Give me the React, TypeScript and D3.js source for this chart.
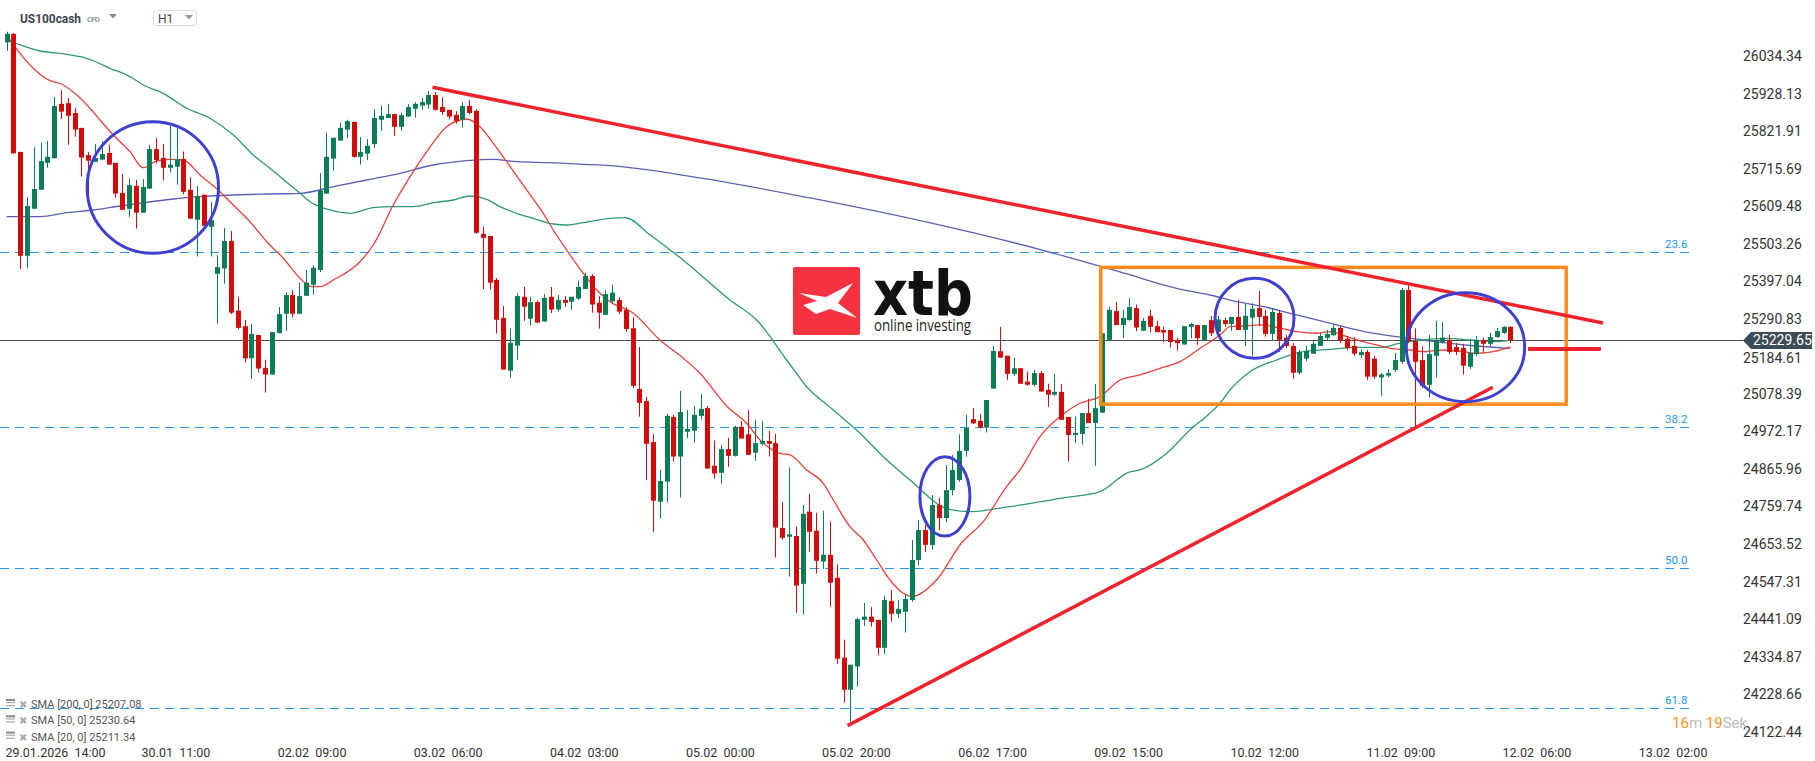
import React from 'react';
import * as d3 from 'd3';

// ---------- DATA ----------
const OPEN = [26073,26097,25763,25469,25602,25656,25732,25745,25899,25901,25873,25831,25754,25735,25741,25760,25732,25647,25602,25667,25591,25659,25771,25746,25718,25721,25743,25656,25571,25642,25551,25418,25433,25511,25314,25270,25179,25245,25152,25133,25250,25305,25358,25305,25356,25387,25429,25645,25744,25795,25826,25848,25749,25758,25785,25854,25859,25870,25834,25863,25885,25894,25897,25924,25890,25882,25868,25853,25893,25879,25531,25525,25401,25293,25144,25215,25353,25291,25338,25283,25353,25317,25344,25339,25348,25375,25412,25336,25302,25340,25344,25316,25264,25092,25058,24942,24773,24830,25013,24901,24971,24974,25016,25038,24875,24855,24922,24903,24985,24964,24912,24937,24945,24939,24699,24674,24676,24541,24745,24691,24604,24623,24558,24332,24241,24307,24439,24448,24439,24360,24492,24456,24462,24495,24608,24693,24651,24764,24727,24806,24835,24917,25007,25002,24983,25093,25199,25186,25135,25151,25113,25104,25137,25090,25076,25084,25013,24962,24965,25024,24996,25025,25231,25313,25273,25287,25321,25257,25299,25270,25259,25259,25231,25218,25268,25273,25231,25287,25254,25287,25276,25296,25259,25294,25321,25299,25248,25307,25237,25214,25138,25178,25192,25214,25237,25244,25265,25234,25214,25188,25197,25178,25125,25130,25146,25169,25372,25228,25174,25104,25186,25225,25231,25211,25208,25155,25191,25231,25220,25239,25251,25268];
const HIGH = [26103,26099,25763,25635,25776,25789,25794,25918,25937,25916,25887,25831,25763,25785,25793,25783,25732,25701,25688,25684,25686,25783,25802,25785,25836,25831,25764,25691,25666,25642,25621,25471,25548,25539,25353,25287,25276,25245,25175,25253,25324,25365,25372,25393,25429,25442,25703,25817,25803,25845,25854,25848,25805,25799,25884,25894,25899,25870,25874,25898,25904,25915,25935,25932,25918,25882,25878,25904,25910,25884,25551,25525,25406,25327,25263,25364,25381,25353,25342,25361,25381,25358,25355,25353,25399,25421,25417,25355,25372,25387,25352,25323,25295,25211,25070,24964,24863,25022,25019,25087,25033,25044,25078,25044,24946,24934,24954,24988,25002,25033,25005,25002,24973,24965,24772,24870,24703,24764,24796,24742,24748,24717,24596,24383,24312,24446,24487,24475,24439,24507,24524,24495,24512,24665,24721,24707,24792,24784,24877,24905,24964,25019,25038,25021,25061,25214,25268,25186,25181,25151,25141,25146,25143,25107,25135,25106,25013,25014,25024,25064,25106,25250,25325,25339,25316,25350,25331,25293,25316,25285,25268,25259,25237,25270,25279,25273,25273,25299,25299,25294,25296,25344,25333,25335,25370,25316,25321,25316,25245,25222,25203,25214,25228,25251,25259,25273,25270,25242,25239,25205,25203,25186,25137,25148,25194,25378,25384,25264,25212,25245,25285,25282,25245,25222,25220,25234,25242,25237,25251,25265,25270,25270];
const LOW = [26049,25757,25432,25435,25602,25656,25718,25745,25856,25783,25806,25693,25633,25735,25741,25727,25633,25599,25579,25546,25591,25659,25730,25682,25705,25670,25643,25574,25467,25554,25467,25277,25390,25304,25261,25167,25120,25139,25082,25133,25250,25257,25294,25305,25356,25359,25423,25645,25710,25795,25803,25747,25727,25740,25774,25822,25859,25809,25823,25863,25860,25882,25885,25880,25868,25855,25843,25832,25869,25531,25375,25373,25249,25147,25124,25175,25285,25271,25278,25283,25307,25311,25325,25316,25344,25375,25308,25263,25302,25335,25304,25254,25095,25014,24834,24688,24725,24771,24887,24785,24953,24940,25006,24867,24838,24824,24872,24901,24952,24906,24889,24932,24901,24615,24666,24561,24459,24454,24632,24570,24583,24476,24315,24205,24151,24250,24422,24420,24339,24342,24434,24445,24403,24490,24594,24631,24637,24693,24716,24792,24830,24901,24993,24980,24969,25093,25181,25118,25129,25107,25102,25099,25085,25042,25073,25005,24887,24939,24935,24996,24875,25025,25228,25273,25236,25285,25256,25257,25252,25253,25225,25210,25201,25218,25236,25217,25231,25242,25254,25268,25257,25259,25214,25186,25270,25240,25229,25197,25208,25121,25133,25171,25192,25214,25231,25244,25222,25203,25186,25180,25118,25121,25073,25126,25140,25163,25222,24984,25095,25068,25125,25220,25191,25188,25133,25149,25186,25194,25214,25237,25248,25222];
const CLOSE = [26097,25759,25469,25610,25658,25737,25749,25893,25877,25865,25826,25747,25738,25746,25757,25727,25645,25599,25669,25591,25664,25771,25740,25718,25727,25743,25650,25574,25638,25554,25570,25437,25511,25308,25265,25179,25248,25150,25133,25253,25304,25358,25305,25355,25393,25435,25654,25749,25803,25831,25850,25749,25763,25780,25859,25865,25870,25834,25867,25890,25899,25904,25924,25882,25876,25863,25850,25893,25873,25534,25520,25393,25288,25147,25223,25355,25325,25338,25280,25350,25317,25344,25336,25353,25381,25412,25331,25308,25361,25365,25311,25262,25101,25053,24937,24776,24832,25016,24901,25027,24979,25019,25036,24867,24853,24922,24903,24985,24952,24906,24939,24945,24937,24700,24671,24681,24536,24739,24688,24606,24623,24544,24329,24241,24312,24441,24448,24433,24360,24495,24456,24470,24498,24608,24693,24651,24764,24727,24806,24863,24917,24982,24995,24983,25061,25200,25181,25135,25151,25107,25104,25137,25085,25076,25084,25005,24962,24968,25024,24996,25038,25250,25316,25273,25293,25324,25266,25285,25268,25253,25252,25225,25222,25270,25276,25236,25273,25250,25289,25276,25296,25259,25299,25319,25296,25248,25310,25231,25214,25138,25197,25200,25220,25242,25248,25265,25229,25208,25192,25197,25127,25127,25133,25137,25174,25372,25228,25169,25101,25191,25228,25237,25197,25197,25158,25194,25231,25220,25239,25256,25268,25229.65];

const Y_TICKS = [26034.34,25928.13,25821.91,25715.69,25609.48,25503.26,25397.04,25290.83,25184.61,25078.39,24972.17,24865.96,24759.74,24653.52,24547.31,24441.09,24334.87,24228.66,24122.44];
const X_LABELS = ['29.01.2026  14:00','30.01  11:00','02.02  09:00','03.02  06:00','04.02  03:00','05.02  00:00','05.02  20:00','06.02  17:00','09.02  15:00','10.02  12:00','11.02  09:00','12.02  06:00','13.02  02:00'];
const X_LABEL_INDEX = [0,20,40,60,80,100,120,140,160,180,200,220,240];

const SMA20_I = [0,1.98,3.94,5.91,8.35,10.32,12.27,13.74,15.69,18.15,20.1,22.07,24.03,25.98,28.44,31.37,33.33,35.78,38.24,40.68,43.13,44.85,46.07,48.02,51.95,53.9,56.84,59.78,61.75,64.69,67.63,69.58,71.54,73.5,76.44,78.88,80.35,82.32,84.76,87.21,88.69,92.11,96.03,99.46,101.91,105.83,108.77,110.73,113.67,115.14,117.59,120.03,121.5,123.95,125.91,127.88,129.83,131.79,133,136.83,140.22,143.63,147.03,148.94,151.87,154.81,157.75,160.69,163.63,166.57,169.51,172.45,175.39,178.33,179.8,181.75,184.2,186.66,189.6,192.54,194.49,196.44,198.41,201.35,203.3,206.25,208.2,211.14,214.08,216.05,218.49,221];
const SMA20_V = [26094,26042,25999.6,25969.3,25952.3,25924,25886.4,25853.3,25810.8,25763.6,25718.3,25737.3,25742.1,25740.1,25697.7,25650.4,25612.8,25565.5,25508.9,25462,25405.4,25381.6,25381.6,25400.6,25452.3,25499.6,25612.8,25707,25763.6,25834.3,25856.1,25834.3,25787.3,25735.3,25655.2,25589.3,25542,25485.4,25419.5,25362.9,25339.2,25306.3,25230.8,25179,25136.6,25044.1,24995.1,24947.9,24910.2,24905.4,24863,24825.3,24778.1,24702.5,24664.9,24608.3,24551.7,24514.1,24505,24555.1,24653.6,24719,24817.7,24863,24957.2,25013.8,25051.7,25070.4,25117.6,25131.8,25150.7,25169.4,25207.3,25245,25268.4,25270.4,25273.3,25266.7,25254.3,25249.8,25254.3,25244.1,25230.8,25216.7,25207.3,25202.5,25197.7,25202.5,25197.7,25193.2,25197.7,25211.34];
const SMA50_I = [0,1.98,4.92,8.85,11.79,15.21,18.15,20.1,23.04,26.48,29.9,33.33,36.27,38.72,41.66,43.13,44.6,47.54,50.48,53.9,56.84,59.78,62.72,65.66,68.11,70.57,72.52,74.97,77.41,80.35,82.32,84.76,88.69,90.89,94.6,99.41,106.32,110.24,114.65,117.59,121.5,125.42,128.85,132.77,138.5,141.88,147.03,155.55,160.63,164.89,166.57,170.49,173.91,176.85,178.33,179.8,182.74,186.66,190.57,194.49,198.41,202.32,204.29,207.23,211.14,215.06,218.49,221];
const SMA50_V = [26079.6,26065.5,26048.5,26039.2,26027.8,25999.6,25975.8,25952.3,25928.8,25886.4,25858.1,25810.8,25754.2,25716.6,25669.4,25645.9,25622.1,25598.6,25589.3,25605.1,25608,25608,25619.3,25626.9,25638.2,25628.9,25608,25589.3,25575.1,25559,25556.2,25562.7,25575.1,25577.1,25527.9,25457.2,25344,25287.4,25174.2,25098.6,25032.7,24966.8,24900.6,24834.7,24751.8,24745.3,24758.3,24784.6,24800.7,24856.5,24863,24910.2,24976.2,25023.4,25051.7,25089.3,25141.1,25174.2,25197.7,25204.5,25210.1,25210.1,25219.5,25228.8,25235.6,25230.8,25226,25230.64];
const SMA200_I = [0,4.92,8.85,12.76,16.68,20.6,24.51,28.44,33.33,38.24,43.13,48.02,52.93,57.83,62.72,67.63,71.54,74.97,79.87,84.76,88.69,101.91,118.08,135.12,152.17,163.63,172.93,176.85,180.78,184.69,188.61,192.54,196.44,200.37,204.29,208.2,212.12,216.05,221];
const SMA200_V = [25579.7,25579.7,25591,25598.6,25609.9,25620.4,25629.7,25636.3,25641.1,25643.9,25645.9,25664.6,25683.5,25702.5,25725.9,25738.1,25742.1,25735.3,25732.5,25727.9,25724,25689.2,25632.6,25564.7,25485.4,25423.2,25372.3,25358.1,25339.2,25325,25306.3,25287.4,25268.4,25251.5,25240.2,25230.8,25221.5,25213.8,25207.08];

const FIB_LEVELS = [25478.9, 24983.7, 24584.8, 24188.7];
const FIB_LABELS = ['23.6', '38.2', '50.0', '61.8'];
const LAST_PRICE = 25229.65;
const LEGEND = ['SMA [200, 0] 25207.08', 'SMA [50, 0] 25230.64', 'SMA [20, 0] 25211.34'];

const TREND_DOWN = [[62.6, 25945.8], [234.6, 25278.9]];
const TREND_UP = [[123.6, 24139.5], [218.4, 25097.0]];
const PRICE_MARK = [[223.6, 25205.4], [234.3, 25205.4]];
const BOX = [160.8, 229.2, 25436.2, 25049.2];
const ELLIPSES = [[21.5, 25662.3, 65.7, 65.8], [137.9, 24788.3, 25, 39.7], [183.4, 25292.2, 39.5, 40], [214.4, 25210.4, 59.2, 54.5]];

// ---------- STYLE ----------
const GREEN = '#0a7d56';
const RED = '#d20b0b';
const FONT = 'Roboto, "Noto Sans", sans-serif';

export default function App() {
  const W = 1815, H = 761;
  const xs = d3.scaleLinear().domain([0, 221]).range([6.5, 6.5 + 221 * 6.805]);
  const ys = d3.scaleLinear().domain([24122.44, 26034.34]).range([731.7, 56]);

  const candles = OPEN.map((o, i) => ({ i, o, h: HIGH[i], l: LOW[i], c: CLOSE[i] }));

  const mk = (I: number[], V: number[]) =>
    d3.line<number>().x((_, k) => xs(I[k])).y((v) => ys(v)).curve(d3.curveMonotoneX)(V) || '';

  const lastY = ys(LAST_PRICE);
  const tickYs = Y_TICKS.map((t) => {
    let y = ys(t);
    if (Math.abs(y - lastY) < 17) y = y > lastY ? lastY + 17.5 : lastY - 17.5;
    return y;
  });

  return (
    <svg width={W} height={H} style={{ position: 'absolute', left: 0, top: 0, background: '#fff' }} fontFamily={FONT}>
      <rect x={0} y={0} width={W} height={H} fill="#fff" />

      {/* fib lines */}
      {FIB_LEVELS.map((f, k) => (
        <g key={'fib' + k}>
          <line x1={0} x2={1690} y1={Math.round(ys(f)) + 0.5} y2={Math.round(ys(f)) + 0.5} stroke="#2196f3" strokeWidth={1} strokeDasharray="9,6" />
          <text x={1665} y={ys(f) - 4} fontSize={11.5} fill="#2196f3">{FIB_LABELS[k]}</text>
        </g>
      ))}

      {/* logo */}
      <g transform="translate(793,267)">
        <rect x={0} y={0} width={67} height={68} rx={2} fill="#f5323f" />
        <polygon points="6,26 33,30 60,16 45,36 64,51 37,42 23,47 10,38 24,34" fill="#fff" />
        <text x={80} y={48} fontSize={62} fontWeight={900} fill="#111" fontFamily='"DejaVu Sans", sans-serif' textLength={100} lengthAdjust="spacingAndGlyphs">xtb</text>
        <text x={81} y={64} fontSize={16} fill="#222" fontFamily='"Open Sans", sans-serif' textLength={97} lengthAdjust="spacingAndGlyphs">online investing</text>
      </g>

      {/* current price line */}
      <line x1={0} x2={1745} y1={Math.round(lastY) + 0.5} y2={Math.round(lastY) + 0.5} stroke="#434e58" strokeWidth={1} />

      {/* SMAs */}
      <path d={mk(SMA200_I, SMA200_V)} fill="none" stroke="#5c5fb8" strokeWidth={1.3} />
      <path d={mk(SMA50_I, SMA50_V)} fill="none" stroke="#2e9a70" strokeWidth={1.3} />
      <path d={mk(SMA20_I, SMA20_V)} fill="none" stroke="#e8403a" strokeWidth={1.3} />

      {/* candles */}
      {candles.map((d) => {
        const up = d.c >= d.o;
        const col = up ? GREEN : RED;
        const xc = Math.round(xs(d.i));
        const top = ys(Math.max(d.o, d.c));
        const bot = ys(Math.min(d.o, d.c));
        return (
          <g key={'c' + d.i}>
            <line x1={xc + 0.5} x2={xc + 0.5} y1={ys(d.h)} y2={ys(d.l)} stroke={col} strokeWidth={1} />
            <rect x={xc - 2} y={top} width={5} height={Math.max(1.5, bot - top)} fill={col} />
          </g>
        );
      })}

      {/* drawings */}
      <rect x={xs(BOX[0])} y={ys(BOX[2])} width={xs(BOX[1]) - xs(BOX[0])} height={ys(BOX[3]) - ys(BOX[2])} fill="none" stroke="#ff8a1e" strokeWidth={3.5} />
      <line x1={xs(TREND_DOWN[0][0])} y1={ys(TREND_DOWN[0][1])} x2={xs(TREND_DOWN[1][0])} y2={ys(TREND_DOWN[1][1])} stroke="#f0232d" strokeWidth={3.5} />
      <line x1={xs(TREND_UP[0][0])} y1={ys(TREND_UP[0][1])} x2={xs(TREND_UP[1][0])} y2={ys(TREND_UP[1][1])} stroke="#f0232d" strokeWidth={3.5} />
      <line x1={xs(PRICE_MARK[0][0])} y1={ys(PRICE_MARK[0][1])} x2={xs(PRICE_MARK[1][0])} y2={ys(PRICE_MARK[1][1])} stroke="#f0232d" strokeWidth={4} />
      {ELLIPSES.map((e, k) => (
        <ellipse key={'e' + k} cx={xs(e[0])} cy={ys(e[1])} rx={e[2]} ry={e[3]} fill="none" stroke="#3f40cf" strokeWidth={3} />
      ))}

      {/* y axis */}
      {Y_TICKS.map((t, k) => (
        <text key={'yt' + k} x={1743} y={tickYs[k] + 5} fontSize={14} fill="#333">{t.toFixed(2)}</text>
      ))}
      <g>
        <polygon points={`1743,${lastY} 1751,${lastY - 8.5} 1812,${lastY - 8.5} 1812,${lastY + 8.5} 1751,${lastY + 8.5}`} fill="#3e4c57" />
        <text x={1753} y={lastY + 5} fontSize={14} fill="#fff">{LAST_PRICE.toFixed(2)}</text>
      </g>

      {/* x axis */}
      {X_LABELS.map((s, k) => (
        <text key={'xl' + k} x={xs(X_LABEL_INDEX[k]) - 1} y={757} fontSize={12.5} fill="#333" style={{ whiteSpace: 'pre' }}>{s}</text>
      ))}

      {/* countdown */}
      <text x={1672} y={728} fontSize={15}>
        <tspan fill="#f7931e">16</tspan><tspan fill="#bbb">m </tspan><tspan fill="#f7931e">19</tspan><tspan fill="#bbb">Sek</tspan>
      </text>

      {/* legend */}
      {LEGEND.map((s, k) => {
        const y = 704 + k * 16.3;
        return (
          <g key={'lg' + k}>
            <rect x={6} y={y - 5} width={9} height={2} fill="#888" />
            <rect x={6} y={y - 2} width={9} height={1.2} fill="#aaa" />
            <rect x={6} y={y + 1} width={9} height={1.2} fill="#aaa" />
            <text x={19} y={y + 4} fontSize={10} fill="#aaa" fontFamily='"DejaVu Sans", sans-serif'>✖</text>
            <text x={31} y={y + 4} fontSize={11} fill="#555">{s}</text>
          </g>
        );
      })}

      {/* header */}
      <text x={20} y={23} fontSize={13} fontWeight={700} fill="#3c4650" textLength={61} lengthAdjust="spacingAndGlyphs">US100cash</text>
      <text x={87} y={22} fontSize={8} fontWeight={700} fill="#9a9a9a" textLength={13} lengthAdjust="spacing">CFD</text>
      <polygon points="109,14 117,14 113,18.5" fill="#8a8a8a" />
      <rect x={153.5} y={10.5} width={43} height={15} rx={2} fill="#fff" stroke="#ddd" />
      <text x={158} y={23} fontSize={12} fill="#444">H1</text>
      <polygon points="185,15 193,15 189,19.5" fill="#999" />
    </svg>
  );
}
